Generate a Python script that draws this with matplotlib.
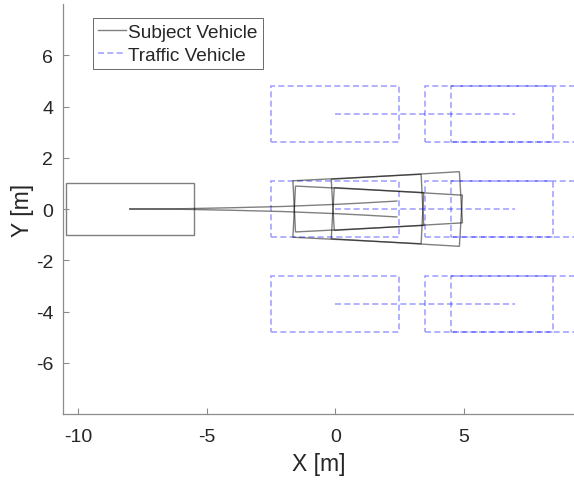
import matplotlib
matplotlib.use("Agg")
import matplotlib.pyplot as plt
from matplotlib.patches import Rectangle
from matplotlib.lines import Line2D

plt.rcParams['font.family'] = ['Liberation Sans', 'DejaVu Sans']

# ---- data ----
ego_start_x = -8.0
ego_start_y = 0.0
ego_length = 5.0
ego_width = 2.0

# predicted ego trajectories (upper / lower branch)
ego_traj_x = [-8.0, -6.0, -4.0, -2.0, 0.0, 1.0, 2.4]
ego_traj_up_y = [0.0, 0.01, 0.05, 0.10, 0.18, 0.23, 0.31]
ego_traj_dn_y = [0.0, -0.01, -0.05, -0.10, -0.18, -0.23, -0.31]

# predicted ego poses along the branches
ego_pose_x = [0.9, 2.4]
ego_pose_up_y = [0.23, 0.31]
ego_pose_dn_y = [-0.23, -0.31]
ego_heading_up = [2.9, 3.4]
ego_heading_dn = [-2.9, -3.4]

# traffic vehicles
traffic_lane_y = [3.7, 0.0, -3.7]
traffic_pos_x = [0.0, 6.0, 7.0]
traffic_traj_x = [0.0, 7.0]
traffic_length = 5.0
traffic_width = 2.2

xticks = [-10, -5, 0, 5]
yticks = [-6, -4, -2, 0, 2, 4, 6]

# ---- style ----
ego_color = (0.0, 0.0, 0.0, 0.5)
tr_color = (0.0, 0.0, 1.0, 0.36)
dash = (0, (3.6, 2.0))
axis_gray = '#8c8c8c'
text_gray = '#262626'

fig = plt.figure(figsize=(5.74, 4.81), dpi=100)
ax = fig.add_axes([0.1098, 0.1372, 0.8902, 0.8524])


def veh(ax, cx, cy, L, W, ang, **kw):
    r = Rectangle((cx - L / 2, cy - W / 2), L, W, angle=ang,
                  rotation_point='center', fill=False, **kw)
    ax.add_patch(r)


# traffic vehicles
for ly in traffic_lane_y:
    for px in traffic_pos_x:
        veh(ax, px, ly, traffic_length, traffic_width, 0.0,
            edgecolor=tr_color, lw=1.2, linestyle=dash)
    ax.plot(traffic_traj_x, [ly, ly], color=tr_color, lw=1.2, linestyle=dash)

# subject vehicle
veh(ax, ego_start_x, ego_start_y, ego_length, ego_width, 0.0,
    edgecolor=ego_color, lw=1.0)
ax.plot(ego_traj_x, ego_traj_up_y, color=ego_color, lw=1.0)
ax.plot(ego_traj_x, ego_traj_dn_y, color=ego_color, lw=1.0)
for px, py, h in zip(ego_pose_x, ego_pose_up_y, ego_heading_up):
    veh(ax, px, py, ego_length, ego_width, h, edgecolor=ego_color, lw=1.0)
for px, py, h in zip(ego_pose_x, ego_pose_dn_y, ego_heading_dn):
    veh(ax, px, py, ego_length, ego_width, h, edgecolor=ego_color, lw=1.0)

ax.set_xlim(-10.6, 9.3)
ax.set_ylim(-8.0, 8.0)
ax.set_xticks(xticks)
ax.set_yticks(yticks)
ax.set_xticklabels([str(v) for v in xticks])
ax.set_yticklabels([str(v) for v in yticks])

for s in ['top', 'right']:
    ax.spines[s].set_visible(False)
for s in ['left', 'bottom']:
    ax.spines[s].set_color(axis_gray)
    ax.spines[s].set_linewidth(0.9)
ax.tick_params(direction='in', length=4, width=0.8, color=axis_gray,
               labelsize=14, labelcolor=text_gray)
ax.tick_params(axis='x', pad=10)
ax.tick_params(axis='y', pad=7)
ax.set_xlabel('X [m]', fontsize=16.5, color=text_gray, labelpad=5)
ax.set_ylabel('Y [m]', fontsize=16.5, color=text_gray, labelpad=1)

handles = [Line2D([], [], color=ego_color, lw=1.0),
           Line2D([], [], color=tr_color, lw=1.2, linestyle=dash)]
leg = ax.legend(handles, ['Subject Vehicle', 'Traffic Vehicle'],
                loc='upper left', bbox_to_anchor=(0.058, 0.967),
                fontsize=13.7, frameon=True, fancybox=False,
                handlelength=1.45, handletextpad=0.1, borderpad=0.3,
                labelspacing=0.3, borderaxespad=0.0)
leg.get_frame().set_edgecolor(text_gray)
leg.get_frame().set_linewidth(0.6)
for t in leg.get_texts():
    t.set_color(text_gray)

fig.savefig('out.png', dpi=100)
